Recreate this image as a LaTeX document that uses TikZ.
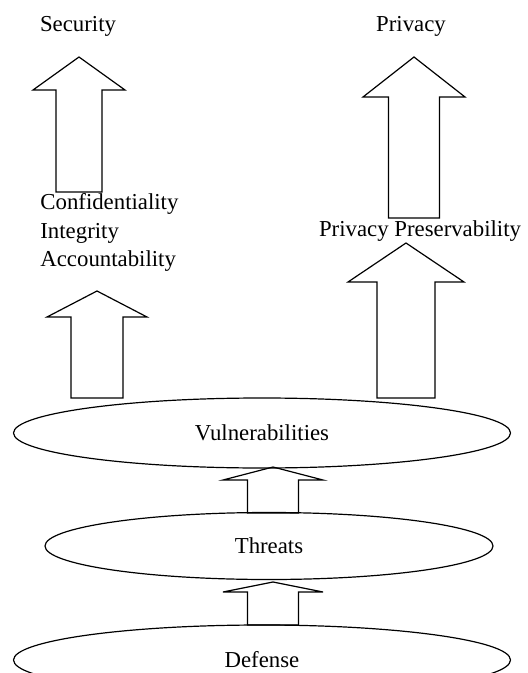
\documentclass[tikz,border=0pt]{standalone}
\usepackage{fontspec}
\setmainfont{Liberation Serif}
\usetikzlibrary{shapes.geometric}

\tikzset{
  layer/.style={draw, ellipse, line width=0.6pt, inner sep=0pt, font=\fontsize{11.4}{14.25}\selectfont},
  blockarrow/.style={draw, line width=0.6pt, line join=miter},
  caption/.style={anchor=base, inner sep=0pt, font=\fontsize{11.4}{14.25}\selectfont},
}

% centre x, base y, tip y, head y, shaft half width, head half width
\newcommand{\blockup}[6]{%
  \draw[blockarrow] ({#1-#5},#2) -- ({#1-#5},#4) -- ({#1-#6},#4) -- (#1,#3)
    -- ({#1+#6},#4) -- ({#1+#5},#4) -- ({#1+#5},#2) -- cycle;}

\begin{document}
\begin{tikzpicture}[x=0.5pt, y=-0.5pt]
  \useasboundingbox (0,0) rectangle (528,673);
  \clip (0,0) rectangle (528,673);

  % top labels
  \node[caption] (security) at (78,32) {Security};
  \node[caption] (privacy) at (411,32) {Privacy};

  % security goals
  \node[caption, anchor=base west] (conf) at (40,210) {Confidentiality};
  \node[caption, anchor=base west] (integ) at ([yshift=-14.25pt]conf.base west) {Integrity};
  \node[caption, anchor=base west] (account) at ([yshift=-14.25pt]integ.base west) {Accountability};
  \node[caption] (preserv) at (420,237) {Privacy Preservability};

  % block arrows
  \blockup{79}{192}{57}{90}{23}{46}
  \blockup{414}{218}{57}{97}{25.5}{51}
  \blockup{97}{398}{291}{317}{26}{50}
  \blockup{406}{398}{243}{282}{29}{58}
  \blockup{273}{513}{467}{480}{25.5}{50}
  \blockup{273}{625}{582}{592}{25.5}{50}

  % layers
  \node[layer, minimum width=248.5pt, minimum height=35pt] (vuln) at (262,433) {Vulnerabilities};
  \node[layer, minimum width=224pt, minimum height=33.5pt] (threats) at (269,546) {Threats};
  \node[layer, minimum width=248.5pt, minimum height=35pt] (defense) at (262,660) {Defense};
\end{tikzpicture}
\end{document}
